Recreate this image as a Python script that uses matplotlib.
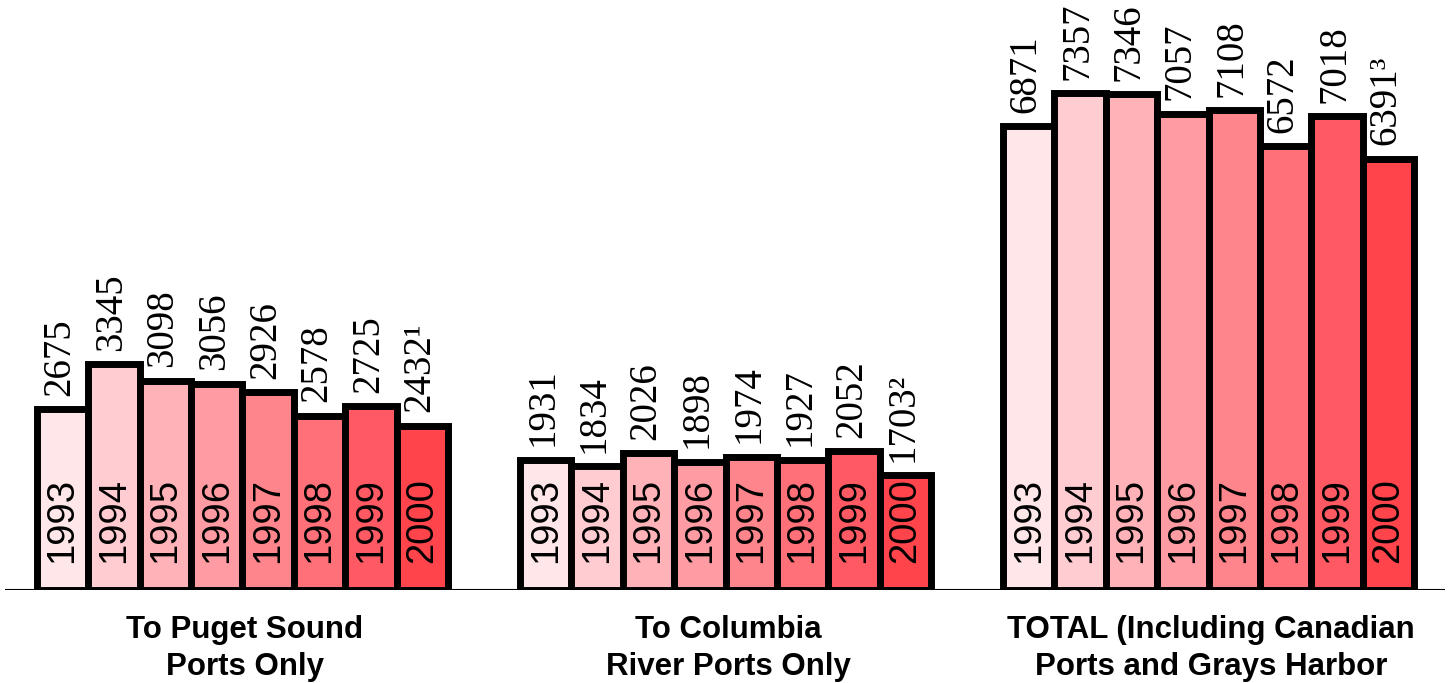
import matplotlib.pyplot as plt

years = ['1993', '1994', '1995', '1996', '1997', '1998', '1999', '2000']
groups = ['To Puget Sound\nPorts Only', 'To Columbia\nRiver Ports Only',
          'TOTAL (Including Canadian\nPorts and Grays Harbor']
puget = [2675, 3345, 3098, 3056, 2926, 2578, 2725, 2432]
columbia = [1931, 1834, 2026, 1898, 1974, 1927, 2052, 1703]
total = [6871, 7357, 7346, 7057, 7108, 6572, 7018, 6391]
notes = ['\u00b9', '\u00b2', '\u00b3']

colors = ['#ffe6e8', '#ffccd1', '#ffb3b9', '#ff9ba2',
          '#ff858c', '#ff7078', '#ff5a64', '#ff444c']

fig = plt.figure(figsize=(14.49, 6.83), dpi=100)
ax = fig.add_axes([5 / 1449, 93 / 683, 1440 / 1449, 590 / 683])

gap = 9.4
for g, vals in enumerate([puget, columbia, total]):
    for i, v in enumerate(vals):
        x = g * gap + i
        ax.bar(x, v, width=1, align='edge', color=colors[i],
               edgecolor='black', linewidth=5, zorder=2)
        ax.text(x + 0.5, 400, years[i], rotation=90, ha='center', va='bottom',
                fontsize=27.5, family='Liberation Sans', zorder=3)
        lab = str(v) + (notes[g] if i == len(vals) - 1 else '')
        ax.text(x + 0.45, v + 200, lab, rotation=90, ha='center', va='bottom',
                fontsize=28, family='Liberation Serif', zorder=3)
    ax.text(g * gap + 4.05, -370, groups[g], ha='center', va='top',
            fontsize=22.5, fontweight='bold', linespacing=1.3,
            family=['Liberation Sans Narrow', 'Liberation Sans'])

ax.axhline(0, color='black', linewidth=1.5, zorder=1)
ax.set_xlim(-0.62, 27.4)
ax.set_ylim(0, 8740)
ax.axis('off')

fig.savefig('out.png', dpi=100)
